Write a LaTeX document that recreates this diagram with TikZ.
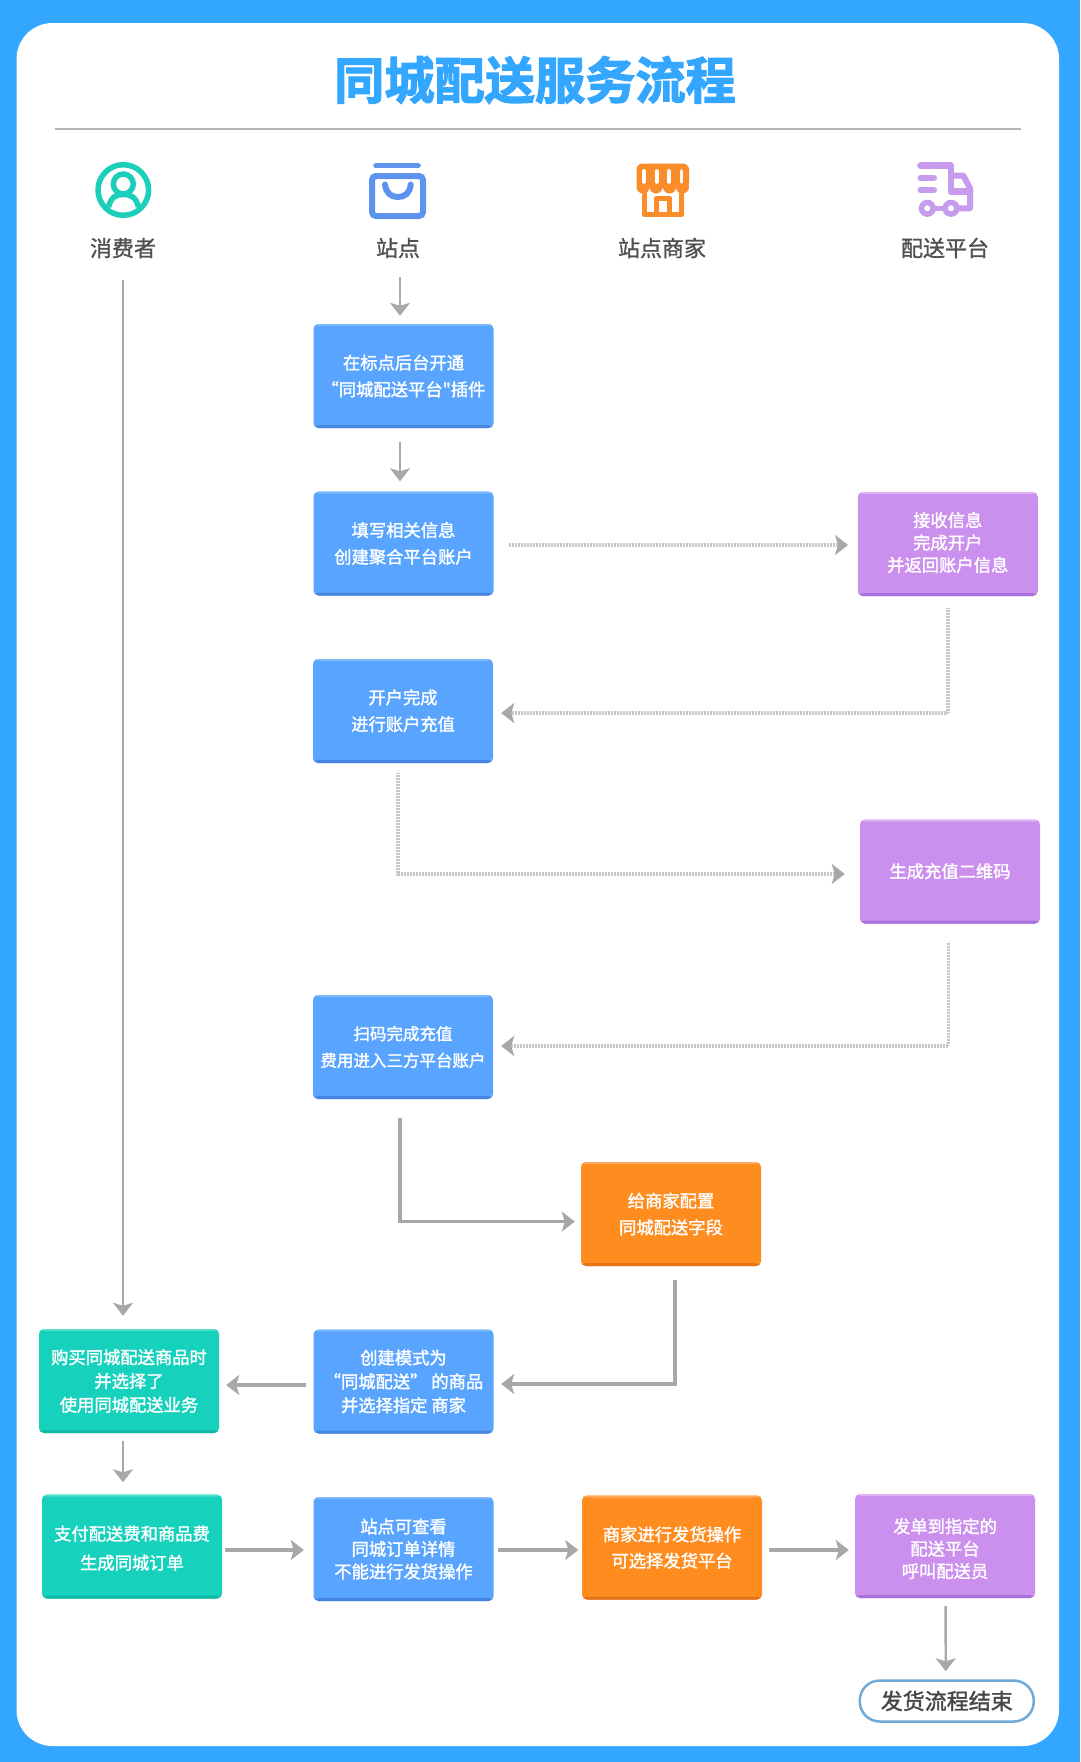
\documentclass[tikz,border=0pt]{standalone}
\usepackage{fontspec}
\setmainfont[BoldFont=* Bold]{Noto Sans CJK SC}
\newfontfamily\titlefont[UprightFont=* Bold,FakeBold=2.4]{Noto Sans CJK SC}
\newfontfamily\medfont[FakeBold=1.1]{Noto Sans CJK SC}
\newfontfamily\boxfont[FakeBold=1.6]{Noto Sans CJK SC}
\usetikzlibrary{arrows.meta}
\newcommand{\liftup}[1]{\rule[-#1pt]{0pt}{0pt}}
\definecolor{bgblue}{HTML}{33A6FF}
\definecolor{rulegray}{HTML}{B4B4B4}
\definecolor{labelgray}{HTML}{505050}
\definecolor{arrowgray}{HTML}{A8A8A8}
\definecolor{dotgray}{HTML}{C6C6C6}
\definecolor{bluemain}{HTML}{58A4FF}
\definecolor{bluedark}{HTML}{4685E0}
\definecolor{bluelight}{HTML}{7DBBFF}
\definecolor{purplemain}{HTML}{CB8FEE}
\definecolor{purpledark}{HTML}{A96FDD}
\definecolor{purplelight}{HTML}{DDB3F5}
\definecolor{orangemain}{HTML}{FF8C1F}
\definecolor{orangedark}{HTML}{E27518}
\definecolor{orangelight}{HTML}{FFAA60}
\definecolor{greenmain}{HTML}{16D2BC}
\definecolor{greendark}{HTML}{12B8A6}
\definecolor{greenlight}{HTML}{52E0CE}
\definecolor{icongreen}{HTML}{1CCFBA}
\definecolor{iconblue}{HTML}{5B93EE}
\definecolor{iconorange}{HTML}{FB8C2A}
\definecolor{iconpurple}{HTML}{C79BEE}
\definecolor{pillblue}{HTML}{6FAAD8}
\tikzset{
  x=1pt,y=-1pt,
  flowbox/.style n args={3}{
    rectangle,rounded corners=5pt,fill=#1,text=white,inner sep=0pt,align=center,
    minimum width=180pt,minimum height=104pt,
    path picture={
      \fill[#2] ([yshift=3pt]path picture bounding box.south west) rectangle (path picture bounding box.south east);
      \fill[#3] ([yshift=-2pt]path picture bounding box.north west) rectangle (path picture bounding box.north east);
    }},
  bluebox/.style={flowbox={bluemain}{bluedark}{bluelight}},
  purplebox/.style={flowbox={purplemain}{purpledark}{purplelight}},
  orangebox/.style={flowbox={orangemain}{orangedark}{orangelight}},
  greenbox/.style={flowbox={greenmain}{greendark}{greenlight}},
  spread/.style={font=\fontsize{17.3}{#1}\selectfont\boxfont},
  headlabel/.style={text=labelgray,font=\fontsize{22}{26}\selectfont\medfont},
  arrowtip/.style={-{Stealth[length=13pt,width=20pt,inset=3pt,color=arrowgray]}},
  solidthin/.style={arrowtip,draw=arrowgray,line width=2.4pt},
  solidthick/.style={arrowtip,draw=arrowgray,line width=3.4pt},
  dottedlink/.style={arrowtip,draw=dotgray,line width=3.5pt,dash pattern=on 1pt off 0.5pt},
}
\begin{document}
\begin{tikzpicture}
\useasboundingbox (0,0) rectangle (1080,1762);
\fill[bgblue] (0,0) rectangle (1080,1762);
\fill[white,rounded corners=36pt] (16.5,23) rectangle (1059,1746);
\node[text=bgblue,inner sep=0pt,font=\fontsize{50.2}{52}\selectfont\titlefont] (title) at (535,80) {同城配送服务流程};
\draw[rulegray,line width=2.5pt] (55,129) -- (1021,129);

% icons
\draw[icongreen,line width=5.5pt] (123.3,190) circle[radius=25.3];
\draw[icongreen,line width=5.5pt] (123.3,184) circle[radius=10];
\draw[icongreen,line width=5.5pt] (108.5,207) .. controls (111,197) and (116,194.5) .. (123.3,194.5) .. controls (131,194.5) and (136,197) .. (138.5,207);

\draw[iconblue,line width=5.5pt,line cap=round] (376,165.7) -- (418,165.7);
\draw[iconblue,line width=6pt,rounded corners=4pt] (372,176) rectangle (423,216);
\draw[iconblue,line width=6pt,line cap=round] (385,184.5) .. controls (386,193) and (391,197) .. (397.8,197) .. controls (405,197) and (410,193) .. (410.7,184.5);

\fill[iconorange,rounded corners=6pt] (636.5,163.5) rectangle (689,188);
\foreach \cx in {643,656,669.5,682.5}{\fill[iconorange] (\cx,187) circle[radius=6.5];}
\foreach \cx in {644,656.7,669,681.5}{\draw[white,line width=3.6pt,line cap=round] (\cx,171) -- (\cx,182);}
\draw[iconorange,line width=5.5pt,line join=round] (644.5,190) -- (644.5,214.5) -- (681.5,214.5) -- (681.5,190);
\draw[iconorange,line width=5.5pt,line join=round] (656.5,214.5) -- (656.5,198.5) -- (669.5,198.5) -- (669.5,214.5);

\draw[iconpurple,line width=6.5pt,line cap=round,line join=round] (920.5,165.7) -- (951,165.7) -- (951,191.7) -- (970,191.7);
\draw[iconpurple,line width=6pt,line cap=round] (920.5,177.7) -- (934,177.7);
\draw[iconpurple,line width=6pt,line cap=round] (920.5,190) -- (934,190);
\draw[iconpurple,line width=6pt,line cap=round,line join=round] (953,175.5) -- (963.3,175.5) -- (970,188.3) -- (970,208.3) -- (957,208.3);
\draw[iconpurple,line width=5.5pt] (927.3,208.3) circle[radius=5.8];
\draw[iconpurple,line width=5.5pt] (951,208.3) circle[radius=5.8];
\draw[iconpurple,line width=5.5pt] (933,208.3) -- (945,208.3);

% head labels
\node[headlabel] (h1) at (123,248) {消费者};
\node[headlabel] (h2) at (398,248) {站点};
\node[headlabel] (h3) at (662,248) {站点商家};
\node[headlabel] (h4) at (945,248) {配送平台};

% boxes
\node[bluebox,spread=26.7pt] (b1) at (403.5,376) {在标点后台开通\\“同城配送平台"插件};
\node[bluebox,spread=26.7pt] (b2) at (403.5,543.5) {填写相关信息\\创建聚合平台账户};
\node[purplebox,spread=22.4pt] (p1) at (947.75,544) {接收信息\\完成开户\\并返回账户信息\liftup{4.4}};
\node[bluebox,spread=26.7pt] (b3) at (403,711) {开户完成\\进行账户充值\liftup{2}};
\node[purplebox,spread=26.7pt] (p2) at (950,871.5) {生成充值二维码\liftup{2}};
\node[bluebox,spread=26.7pt,font=\fontsize{16.5}{26.7}\selectfont\boxfont] (b4) at (403,1047) {扫码完成充值\\费用进入三方平台账户};
\node[orangebox,spread=26.7pt] (o1) at (671,1214) {给商家配置\\同城配送字段};
\node[bluebox,spread=23.8pt] (b5) at (403.5,1381.5) {创建模式为\\“同城配送” 的商品\\并选择指定 商家};
\node[greenbox,spread=23.8pt] (g1) at (129,1381) {购买同城配送商品时\\并选择了\\使用同城配送业务};
\node[greenbox,spread=29pt] (g2) at (132,1546.5) {\rule{0pt}{18pt}支付配送费和商品费\\生成同城订单};
\node[bluebox,spread=22.5pt] (b6) at (403.5,1549) {站点可查看\\同城订单详情\\不能进行发货操作};
\node[orangebox,spread=26.3pt] (o2) at (672,1547.5) {商家进行发货操作\\可选择发货平台};
\node[purplebox,spread=22.4pt] (p3) at (945,1546) {\rule{0pt}{20pt}发单到指定的\\配送平台\\呼叫配送员};
\node[draw=pillblue,line width=2.5pt,fill=white,rounded corners=20pt,minimum width=174pt,minimum height=41pt,inner sep=0pt,text=black!72,font=\fontsize{22}{26}\selectfont\boxfont] (endpill) at (946.75,1701) {发货流程结束\liftup{2}};

% free ends
\coordinate (s1) at (400,277);
\coordinate (c1) at (123,280);

% connectors
\draw[solidthin] (s1) -- ([xshift=-3.5pt,yshift=8pt]b1.north);
\draw[solidthin] ([xshift=-3.5pt,yshift=-14pt]b1.south) -- ([xshift=-3.5pt,yshift=10pt]b2.north);
\draw[dottedlink] ([xshift=15pt,yshift=-1.5pt]b2.east) -- ([xshift=-9.5pt,yshift=-1pt]p1.west);
\draw[dottedlink] ([xshift=0.25pt,yshift=-12pt]p1.south) |- ([xshift=8pt,yshift=-2pt]b3.east);
\draw[dottedlink] ([xshift=-5pt,yshift=-10pt]b3.south) |- ([xshift=-15pt,yshift=-2.5pt]p2.west);
\draw[dottedlink] ([xshift=-1.5pt,yshift=-19pt]p2.south) |- ([xshift=8pt,yshift=1pt]b4.east);
\draw[solidthick] ([xshift=-3pt,yshift=-19pt]b4.south) |- ([xshift=-6pt,yshift=-7.6pt]o1.west);
\draw[solidthick] ([xshift=4pt,yshift=-14pt]o1.south) |- ([xshift=7.5pt,yshift=-2.5pt]b5.east);
\draw[solidthick] ([xshift=-7pt,yshift=-3.5pt]b5.west) -- ([xshift=7pt,yshift=-4pt]g1.east);
\draw[solidthin] (c1) -- ([xshift=-6pt,yshift=13pt]g1.north);
\draw[solidthin] ([xshift=-6pt,yshift=-8pt]g1.south) -- ([xshift=-9pt,yshift=12pt]g2.north);
\draw[solidthick] ([xshift=2.5pt,yshift=-3.5pt]g2.east) -- ([xshift=-9.5pt,yshift=-1pt]b6.west);
\draw[solidthick] ([xshift=4.5pt,yshift=-1pt]b6.east) -- ([xshift=-3.5pt,yshift=-2.5pt]o2.west);
\draw[solidthick] ([xshift=6.6pt,yshift=-2.5pt]o2.east) -- ([xshift=-6pt,yshift=-4pt]p3.west);
\draw[solidthin] ([xshift=0.6pt,yshift=-8pt]p3.south) -- ([xshift=-1pt,yshift=8pt]endpill.north);
\end{tikzpicture}
\end{document}
